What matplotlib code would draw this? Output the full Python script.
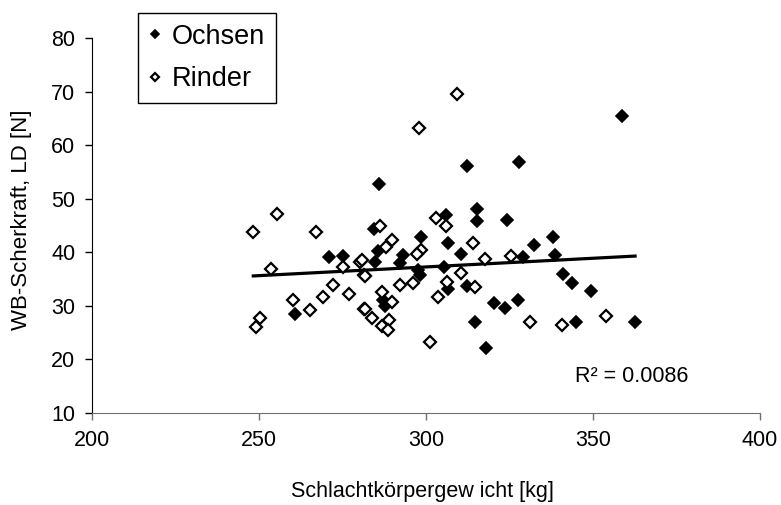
import matplotlib.pyplot as plt
import numpy as np

plt.rcParams['font.family'] = ['Liberation Sans', 'DejaVu Sans']

# Ochsen (filled diamonds)
ochsen_x = [271.0, 275.2, 260.8, 312.2, 286.0, 315.2, 315.2, 306.0, 284.4, 298.5,
            306.7, 310.4, 285.7, 293.0, 284.7, 292.2, 297.7, 305.4, 298.2, 287.2,
            287.7, 306.7, 312.2, 314.7, 327.9, 324.2, 338.0, 332.3, 329.1, 338.6,
            341.1, 343.6, 349.3, 320.4, 323.7, 327.4, 344.9, 318.0, 358.8, 362.6]
ochsen_y = [39.1, 39.4, 28.5, 56.2, 52.7, 48.0, 45.9, 47.0, 44.4, 42.9,
            41.7, 39.7, 40.3, 39.5, 38.1, 38.0, 36.7, 37.2, 35.8, 31.1,
            29.9, 33.1, 33.7, 26.9, 56.9, 46.0, 42.8, 41.3, 39.1, 39.5,
            36.0, 34.2, 32.7, 30.5, 29.6, 31.1, 26.9, 22.1, 65.5, 26.9]

# Rinder (open diamonds)
rinder_x = [255.3, 248.3, 267.1, 253.5, 260.3, 250.3, 249.0, 265.3, 269.1, 272.3,
            277.0, 280.2, 275.2, 281.4, 281.4, 303.0, 306.0, 286.2, 289.7, 288.0,
            314.2, 298.5, 297.2, 317.7, 280.7, 281.7, 310.4, 296.0, 292.2, 306.2,
            314.7, 303.7, 286.7, 289.7, 281.7, 283.7, 289.0, 286.7, 288.7, 301.2,
            325.4, 331.1, 340.6, 353.9, 309.2, 297.9]
rinder_y = [47.2, 43.7, 43.7, 36.8, 31.1, 27.7, 26.0, 29.3, 31.6, 33.9,
            32.2, 38.2, 37.2, 35.8, 29.4, 46.4, 44.9, 44.9, 42.2, 41.0,
            41.7, 40.4, 39.7, 38.7, 38.6, 35.6, 36.2, 34.3, 33.9, 34.5,
            33.6, 31.7, 32.5, 30.8, 29.4, 27.7, 27.3, 26.3, 25.5, 23.2,
            39.3, 26.9, 26.5, 28.1, 69.6, 63.2]

r2_label = "R² = 0.0086"

fig = plt.figure(figsize=(7.81, 5.05), dpi=100)
ax = fig.add_axes([92/781, 1 - 413/505, (760-92)/781, (413-38)/505])

ax.plot(ochsen_x, ochsen_y, 'D', ms=6.4, mfc='black', mec='black', mew=1.2,
        linestyle='none', label='Ochsen')
ax.plot(rinder_x, rinder_y, 'D', ms=6.0, mfc='white', mec='black', mew=1.6,
        linestyle='none', label='Rinder')

# linear trend over all animals
all_x = np.array(ochsen_x + rinder_x)
all_y = np.array(ochsen_y + rinder_y)
k, d = np.polyfit(all_x, all_y, 1)
xs = np.array([all_x.min(), all_x.max()])
ax.plot(xs, k * xs + d, color='black', lw=2.3, zorder=1)

ax.text(344.5, 16.9, r2_label, fontsize=15.5, va='center', ha='left')

ax.set_xlim(200, 400)
ax.set_ylim(10, 80)
ax.set_xticks([200, 250, 300, 350, 400])
ax.set_yticks(range(10, 81, 10))
ax.tick_params(labelsize=15.5, length=5, width=1, direction='out', pad=7)
for s in ['top', 'right']:
    ax.spines[s].set_visible(False)
ax.spines['left'].set_color('black')
ax.spines['bottom'].set_color('#707070')
ax.tick_params(axis='x', colors='#707070', labelcolor='black')

ax.set_xlabel("Schlachtkörpergew icht [kg]", fontsize=15.5)
ax.set_ylabel("WB-Scherkraft, LD [N]", fontsize=16)
ax.xaxis.set_label_coords(0.494, -0.181)
ax.yaxis.set_label_coords(-0.09, 0.515)

leg = ax.legend(loc='upper left', bbox_to_anchor=(138/781, 1 - 13/505),
                bbox_transform=fig.transFigure, fontsize=19.5, markerscale=0.7,
                handlelength=0.45, handletextpad=0.4, borderpad=0.4,
                borderaxespad=0, labelspacing=0.6, fancybox=False,
                edgecolor='black', framealpha=1)
leg.get_frame().set_linewidth(1.0)

fig.savefig('out.png', dpi=100)
